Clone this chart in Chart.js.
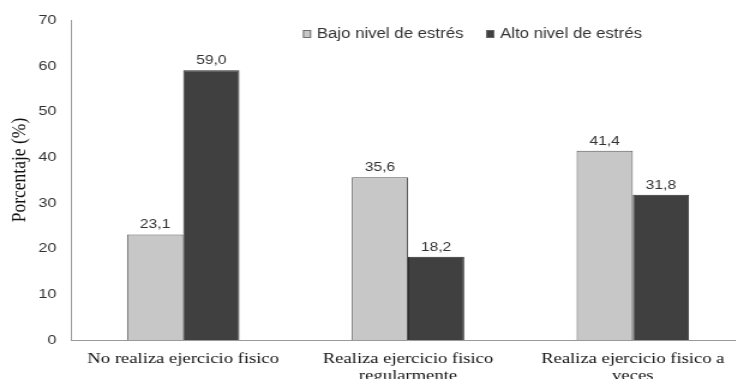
<!DOCTYPE html>
<html>
<head>
<meta charset="utf-8">
<script src="https://cdn.jsdelivr.net/npm/chart.js@4"></script>
<style>
  html, body { margin: 0; padding: 0; background: #fff; overflow: hidden; }
  /* the original picture is stretched sideways, so draw narrow and widen it */
  #wrap { width: 621px; height: 379px; transform: scaleX(1.2); transform-origin: 0 0; }
</style>
</head>
<body>
<div id="wrap"><canvas id="chart"></canvas></div>
<script>
const categories = [
  ["No realiza ejercicio fisico"],
  ["Realiza ejercicio fisico", "regularmente"],
  ["Realiza ejercicio fisico a", "veces"]
];
const seriesNames = ["Bajo nivel de estrés", "Alto nivel de estrés"];
const bajoValues = [23.1, 35.6, 41.4];
const altoValues = [59.0, 18.2, 31.8];
const yTicks = [0, 10, 20, 30, 40, 50, 60, 70];
const yTitle = "Porcentaje (%)";

const sansFont = "'Liberation Sans', Arial, sans-serif";
const serifFont = "'Liberation Serif', 'Times New Roman', serif";

// value labels above each bar, decimal comma
const valueLabels = {
  id: 'valueLabels',
  afterDatasetsDraw(chart) {
    const ctx = chart.ctx;
    ctx.save();
    ctx.font = "13px " + sansFont;
    ctx.fillStyle = '#333';
    ctx.textAlign = 'center';
    ctx.textBaseline = 'alphabetic';
    chart.data.datasets.forEach((ds, i) => {
      chart.getDatasetMeta(i).data.forEach((bar, j) => {
        ctx.fillText(ds.data[j].toFixed(1).replace('.', ','), bar.x, bar.y - 6);
      });
    });
    ctx.restore();
  }
};

// legend inside the plot (top right) and the y title
const extras = {
  id: 'extras',
  afterDraw(chart) {
    const ctx = chart.ctx;
    ctx.save();
    ctx.font = "14px " + sansFont;
    ctx.textBaseline = 'middle';
    let x = 252.5;
    const y = 34;
    chart.data.datasets.forEach(ds => {
      ctx.fillStyle = ds.backgroundColor;
      ctx.fillRect(x, y - 4, 6.7, 8);
      ctx.strokeStyle = '#666';
      ctx.lineWidth = 0.9;
      ctx.strokeRect(x + 0.4, y - 3.5, 5.9, 7);
      ctx.fillStyle = '#333';
      ctx.fillText(ds.label, x + 11.5, y);
      x += 11.5 + ctx.measureText(ds.label).width + 19;
    });

    ctx.translate(16, 170);
    ctx.rotate(-Math.PI / 2);
    ctx.font = "17.5px " + serifFont;
    ctx.fillStyle = '#111';
    ctx.textAlign = 'center';
    ctx.fillText(yTitle, 0, 0);
    ctx.restore();
  }
};

new Chart(document.getElementById('chart'), {
  type: 'bar',
  data: {
    labels: categories,
    datasets: [
      {
        label: seriesNames[0],
        data: bajoValues,
        backgroundColor: '#c7c7c7',
        borderColor: '#555',
        borderWidth: 1
      },
      {
        label: seriesNames[1],
        data: altoValues,
        backgroundColor: '#404040',
        borderColor: '#2a2a2a',
        borderWidth: 1
      }
    ]
  },
  plugins: [valueLabels, extras],
  options: {
    responsive: true,
    maintainAspectRatio: false,
    animation: false,
    layout: { padding: { top: 13, right: 0, left: 0, bottom: 0 } },
    plugins: {
      legend: { display: false },
      tooltip: { enabled: false }
    },
    datasets: {
      bar: { barPercentage: 1, categoryPercentage: 0.5 }
    },
    scales: {
      x: {
        grid: { display: false, drawTicks: false },
        border: { color: '#999' },
        ticks: {
          color: '#111',
          font: { family: serifFont, size: 15.5, lineHeight: 1.1 },
          padding: 10,
          maxRotation: 0,
          autoSkip: false
        },
        afterFit: scale => { scale.height = 39; }
      },
      y: {
        min: 0,
        max: 70,
        grid: { display: false, drawTicks: false },
        border: { color: '#999' },
        afterBuildTicks: axis => { axis.ticks = yTicks.map(v => ({ value: v })); },
        ticks: {
          color: '#333',
          font: { family: sansFont, size: 13.5 },
          padding: 12
        },
        afterFit: scale => { scale.width = 59; }
      }
    }
  }
});
</script>
</body>
</html>
